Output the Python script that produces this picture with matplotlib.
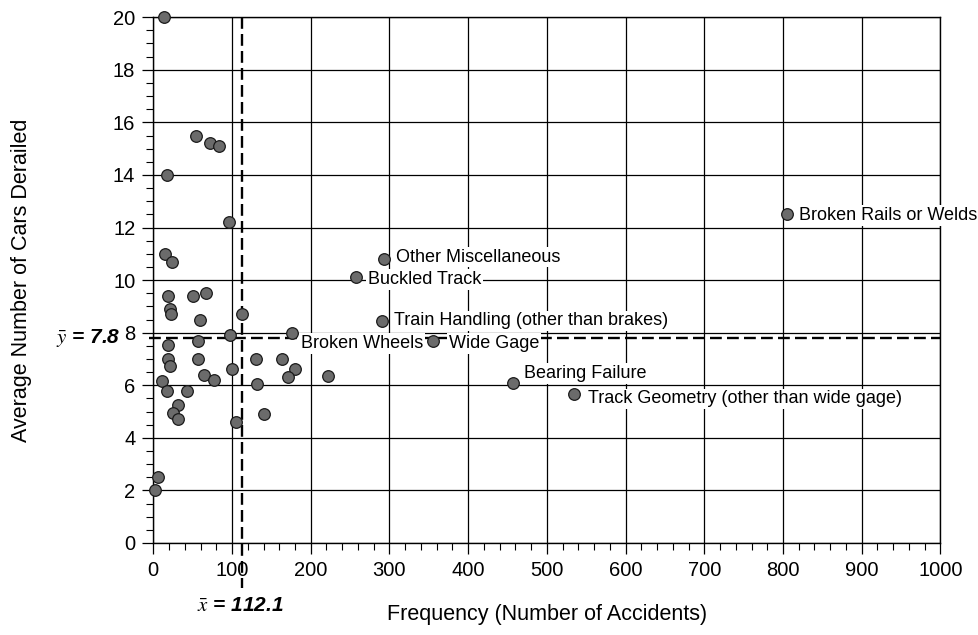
import numpy as np
import matplotlib
matplotlib.use('Agg')
from matplotlib import pyplot as plt
from matplotlib import transforms

plt.rcParams['font.family'] = ['Liberation Sans', 'DejaVu Sans']
plt.rcParams['mathtext.fontset'] = 'stix'

# unlabelled cause groups: frequency vs. average cars derailed
freq = [13.6, 54.5, 72.3, 83.8, 17.9, 95.7, 14.9, 23.5, 19.1, 51.0,
        66.8, 21.3, 22.2, 59.6, 112.7, 97.0, 57.4, 19.1, 19.1, 21.3,
        57.4, 100.0, 131.0, 163.8, 179.5, 171.0, 222.4, 63.8, 77.4, 10.7,
        17.9, 43.4, 131.9, 31.9, 25.5, 31.9, 140.3, 105.5, 6.4, 2.2]
cars = [20.0, 15.5, 15.2, 15.1, 14.0, 12.2, 11.0, 10.7, 9.4, 9.4,
        9.5, 8.9, 8.7, 8.5, 8.7, 7.9, 7.7, 7.55, 7.0, 6.75,
        7.0, 6.6, 7.0, 7.0, 6.6, 6.3, 6.35, 6.4, 6.2, 6.15,
        5.8, 5.8, 6.05, 5.25, 4.95, 4.7, 4.9, 4.6, 2.5, 2.0]

# named causes
causes = ['Broken Rails or Welds', 'Other Miscellaneous', 'Buckled Track',
          'Train Handling (other than brakes)', 'Broken Wheels', 'Wide Gage',
          'Bearing Failure', 'Track Geometry (other than wide gage)']
cause_freq = [804.5, 292.6, 257.3, 290.4, 176.5, 355.0, 457.0, 534.5]
cause_cars = [12.5, 10.8, 10.13, 8.45, 7.97, 7.7, 6.07, 5.67]
# label offsets in pixels
label_off = [(12, -1), (12, 2), (12, -3), (12, 0), (9, -10), (16, -3), (11, 10), (14, -5)]

x_mean = 112.1
y_mean = 7.8

fig = plt.figure(figsize=(9.79, 6.35), dpi=100)
ax = fig.add_axes([0.1566, 0.1449, 0.804, 0.828])

ax.set_xlim(0, 1000)
ax.set_ylim(0, 20)
ax.set_xticks(np.arange(0, 1001, 100))
ax.set_xticks(np.arange(0, 1001, 20), minor=True)
ax.set_yticks(np.arange(0, 21, 2))
ax.set_yticks(np.arange(0, 20.1, 0.5), minor=True)
ax.grid(True, which='major', color='black', linewidth=0.9)
ax.tick_params(which='major', direction='out', length=8, width=0.9, labelsize=14.5, pad=5)
ax.tick_params(which='minor', direction='out', length=5, width=0.8)
for sp in ax.spines.values():
    sp.set_linewidth(1.0)
ax.set_axisbelow(True)

ax.set_xlabel('Frequency (Number of Accidents)', fontsize=15.5, labelpad=17)
ax.set_ylabel('Average Number of Cars Derailed', fontsize=15.5, labelpad=58)

ax.scatter(freq + cause_freq, cars + cause_cars, s=70, facecolor='#6b6b6b',
           edgecolor='#1a1a1a', linewidth=0.9, zorder=4, clip_on=False)

for name, fx, cy, off in zip(causes, cause_freq, cause_cars, label_off):
    ax.annotate(name, (fx, cy), xytext=off, textcoords='offset pixels',
                fontsize=13, ha='left', va='center', zorder=3,
                bbox=dict(boxstyle='square,pad=0.1', facecolor='white', edgecolor='none'))

# mean lines
vt = transforms.blended_transform_factory(ax.transData, ax.transAxes)
ht = transforms.blended_transform_factory(ax.transAxes, ax.transData)
ax.plot([x_mean, x_mean], [1.0, -0.085], transform=vt, color='black', lw=1.7,
        dashes=(5, 2.2), clip_on=False, zorder=2)
ax.plot([-0.006, 1.0], [y_mean, y_mean], transform=ht, color='black', lw=1.7,
        dashes=(5, 2.2), clip_on=False, zorder=2)

ax.text(-0.042, y_mean, r'$\bar{y}$ = 7.8', transform=ht, ha='right', va='center',
        fontsize=15, fontweight='bold', style='italic')
ax.text(0.055, -0.118, r'$\bar{x}$ = 112.1', transform=ax.transAxes, ha='left',
        va='center', fontsize=15, fontweight='bold', style='italic')

fig.savefig('out.png', dpi=100)
